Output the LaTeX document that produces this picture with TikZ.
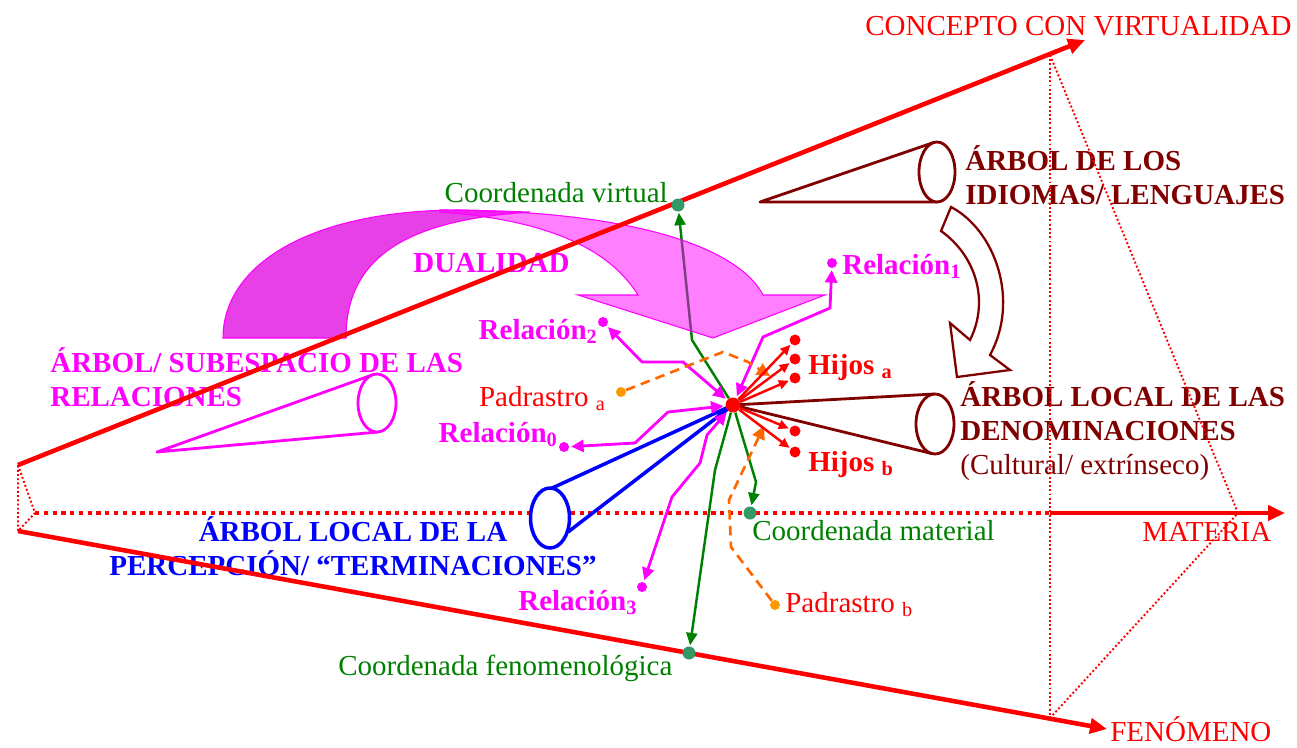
\documentclass[tikz,border=0pt]{standalone}
\usepackage{fontspec}
\setmainfont{Liberation Serif}
\usetikzlibrary{arrows.meta, positioning, calc, backgrounds}
\definecolor{maroon}{RGB}{128,0,0}
\definecolor{dkgreen}{RGB}{0,128,0}
\definecolor{ptgreen}{RGB}{51,153,102}
\definecolor{orng}{RGB}{255,102,0}
\definecolor{orngdot}{RGB}{255,153,0}
\definecolor{backpink}{RGB}{230,64,230}
\definecolor{mgnt}{RGB}{255,0,255}
\definecolor{rd}{RGB}{255,0,0}
\definecolor{bl}{RGB}{0,0,255}

\begin{document}
\begin{tikzpicture}[x=0.02cm, y=-0.02cm,
  txt/.style={inner sep=0pt, font=\fontsize{16.5}{19.3}\selectfont},
  btxt/.style={inner sep=0pt, font=\fontsize{16.5}{19.3}\selectfont\bfseries},
  ptdot/.style={circle, fill=#1, inner sep=0pt, minimum size=0.2cm},
  cdot/.style={ptdot=ptgreen, minimum size=0.26cm},
  axisline/.style={rd, line width=2.6pt},
  axarr/.style={axisline, -{Triangle[length=0.34cm, width=0.3cm]}},
  sqdots/.style={rd, line width=2.4pt, dash pattern=on 2.4pt off 2.6pt},
  fine/.style={rd, line width=1.1pt, dash pattern=on 1.1pt off 1.3pt},
  rel/.style={mgnt, line width=1.6pt, {Triangle[length=0.25cm, width=0.24cm]}-{Triangle[length=0.25cm, width=0.24cm]}, shorten <=1pt, shorten >=1pt},
  crd/.style={dkgreen, line width=1.4pt, -{Triangle[length=0.25cm, width=0.22cm]}, shorten >=0.5pt},
  hijo/.style={rd, line width=1.4pt, -{Triangle[length=0.2cm, width=0.18cm]}, shorten >=0.5pt},
  pad/.style={orng, line width=1.5pt, dash pattern=on 5.5pt off 3.5pt, -{Triangle[length=0.26cm, width=0.26cm]}},
  cone/.style={line width=1.6pt, line join=round}
]
\useasboundingbox (0,0) rectangle (1297,747);

\coordinate (ts) at (18,465);
\coordinate (te) at (1085,40);
\coordinate (bs) at (18,531);
\coordinate (be) at (1107,729);
\coordinate (o) at (35,513);
\coordinate (mx) at (1050,513);
\coordinate (me) at (1285,513);
\coordinate (vt) at (1050,55);
\coordinate (vb) at (1050,718);
\coordinate (vr) at (1238,513);
\coordinate (paend) at (770,376);
\coordinate (pbend) at (764,426);

\node[ptdot=rd, minimum size=0.3cm] (ctr) at (733,405) {};
\node[cdot] (virt) at (678,205) {};
\node[cdot] (mat) at (750,513) {};
\node[cdot] (fen) at (689,653) {};
\node[ptdot=mgnt] (r0) at (564,447) {};
\node[ptdot=mgnt] (r1) at (832,263) {};
\node[ptdot=mgnt] (r2) at (603,322) {};
\node[ptdot=mgnt] (r3) at (642,587) {};
\node[ptdot=orngdot] (pa) at (621,392) {};
\node[ptdot=orngdot] (pb) at (775,605) {};
\node[ptdot=rd, minimum size=0.22cm] (ha1) at (795,340) {};
\node[ptdot=rd, minimum size=0.22cm] (ha2) at (795,359) {};
\node[ptdot=rd, minimum size=0.22cm] (ha3) at (795,378) {};
\node[ptdot=rd, minimum size=0.22cm] (hb1) at (795,431) {};
\node[ptdot=rd, minimum size=0.22cm] (hb2) at (795,452) {};

\begin{scope}[on background layer]
\draw[sqdots] (o) -- (mx);

\draw[cone, maroon] (933.4,142.6) -- (760,202) -- (937,202);
\draw[cone, maroon, fill=white] (937,172) ellipse [x radius=18, y radius=30];
\draw[cone, maroon] (934.3,394) -- (ctr.center) -- (932,453.6);
\draw[cone, maroon, fill=white] (935,424) ellipse [x radius=19, y radius=30];
\draw[cone, mgnt] (372.7,374.8) -- (157,452) -- (378.1,432);
\draw[cone, mgnt, fill=white] (377,403) ellipse [x radius=19, y radius=29];
\draw[cone, bl, line width=2pt] (550,489) -- (ctr.center) -- (568,532);
\draw[cone, bl, line width=2pt, fill=white] (550,518) ellipse [x radius=19.5, y radius=30];

\draw[crd] (ctr) -- (692,340) -- (virt);
\draw[crd] (ctr) -- (715,470) -- (fen);
\draw[crd] (ctr) -- (756,482) -- (mat);

\draw[rel] (ctr) -- (763,337) -- (830,308) -- (r1);
\draw[rel] (ctr) -- (683,362) -- (642,362) -- (r2);
\draw[rel] (ctr) -- (668,412) -- (635,443) -- (r0);
\draw[rel] (ctr) -- (707,435) -- (700,463) -- (672,497) -- (r3);

\draw[pad] (pa) -- (723,352) -- (748,362) -- (paend);
\draw[pad] (pb) -- (731,547) -- (729,500) -- (pbend);

\draw[hijo] (ctr) -- (ha1);
\draw[hijo] (ctr) -- (ha2);
\draw[hijo] (ctr) -- (ha3);
\draw[hijo] (ctr) -- (hb1);
\draw[hijo] (ctr) -- (hb2);

\filldraw[fill=backpink, draw=mgnt, line width=0.6pt] (223,338) .. controls (223,265) and (310,210) .. (460,210) -- (530,212) .. controls (410,220) and (346,255) .. (346,338) -- cycle;
\filldraw[fill=mgnt, fill opacity=0.5, draw=mgnt, line width=0.6pt] (440,210) .. controls (640,210) and (740,250) .. (763,295) -- (825,295) -- (713,338) -- (578,295) -- (638,295) .. controls (610,250) and (550,220) .. (440,212) -- cycle;

\filldraw[fill=white, draw=maroon, line width=1.3pt] (951,207) .. controls (995,230) and (1020,300) .. (990,355) -- (1010,370) -- (957,377) -- (950,323) -- (970,340) .. controls (990,300) and (975,255) .. (941,231) -- cycle;

\node[txt, rd, anchor=base west] (concepto) at (865,35) {CONCEPTO CON VIRTUALIDAD};
\node[txt, dkgreen, anchor=base east] (virtlbl) at (668,202) {Coordenada virtual};
\node[btxt, mgnt, anchor=base west] (dual) at (413,272) {DUALIDAD};
\node[btxt, mgnt, anchor=base west] (r1lbl) at (842,274) {Relación\textsubscript{1}};
\node[btxt, mgnt, anchor=base east] (r2lbl) at (598,339) {Relación\textsubscript{2}};
\node[txt, rd, anchor=base east] (palbl) at (606,406) {Padrastro \textsubscript{a}};
\node[btxt, mgnt, anchor=base east] (r0lbl) at (558,442) {Relación\textsubscript{0}};
\node[btxt, rd, anchor=base west] (halbl) at (808,374) {Hijos \textsubscript{a}};
\node[btxt, rd, anchor=base west] (hblbl) at (808,471) {Hijos \textsubscript{b}};
\node[btxt, maroon, anchor=north west, align=left] (idiomas) at (965,145) {ÁRBOL DE LOS\\IDIOMAS/ LENGUAJES};
\node[btxt, maroon, anchor=north west, align=left] (denom) at (960,381) {ÁRBOL LOCAL DE LAS\\DENOMINACIONES\\\mdseries(Cultural/ extrínseco)};
\node[btxt, mgnt, anchor=north west, align=left] (relac) at (50,347) {ÁRBOL/ SUBESPACIO DE LAS\\RELACIONES};
\node[btxt, bl, anchor=north, align=center] (percep) at (353,516) {ÁRBOL LOCAL DE LA\\PERCEPCIÓN/ “TERMINACIONES”};
\node[txt, dkgreen, anchor=base west] (matlbl) at (752,540) {Coordenada material};
\node[txt, rd, anchor=base west] (materia) at (1142,541) {MATERIA};
\node[btxt, mgnt, anchor=base west] (r3lbl) at (518,610) {Relación\textsubscript{3}};
\node[txt, rd, anchor=base west] (pblbl) at (785,612) {Padrastro \textsubscript{b}};
\node[txt, dkgreen, anchor=base west] (fenlbl) at (338,675) {Coordenada fenomenológica};
\node[txt, rd, anchor=base west] (fenom) at (1110,741) {FENÓMENO};

\draw[axarr] (ts) -- (te);
\draw[axarr] (bs) -- (be);
\draw[axarr] (mx) -- (me);
\draw[fine] (ts) -- (o) -- (bs) -- cycle;
\draw[fine] (vt) -- (vb);
\draw[fine] (vt) -- (vr) -- (vb);
\end{scope}
\end{tikzpicture}
\end{document}
